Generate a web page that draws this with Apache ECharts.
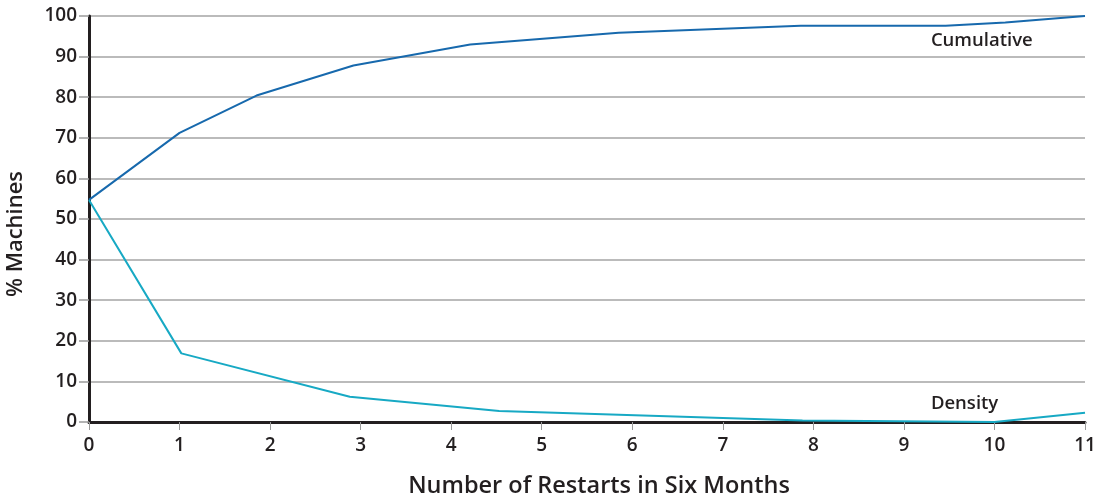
<!DOCTYPE html>
<html>
<head>
<meta charset="utf-8">
<title>Restarts</title>
<script src="https://cdn.jsdelivr.net/npm/echarts@6/dist/echarts.min.js"></script>
<style>
  html, body { margin: 0; padding: 0; background: #fff; }
  #chart { width: 1098px; height: 498px; }
</style>
</head>
<body>
<div id="chart"></div>
<script>
// values: [restarts, % machines]
var cumulative = [
  [0, 54.7], [1.0, 71.2], [1.85, 80.4], [2.92, 87.8], [4.21, 93.0],
  [5.85, 95.9], [7.86, 97.6], [9.46, 97.6], [10.12, 98.4], [11, 100]
];
var density = [
  [0, 54.7], [1.02, 16.9], [2.88, 6.2], [4.53, 2.7], [7.88, 0.4],
  [10, 0], [11, 2.3]
];
var seriesNames = ["Cumulative", "Density"];
var labelAt = [[9.86, 94.0], [9.67, 4.6]];

var font = "'Open Sans', 'Noto Sans', sans-serif";
var ink = "#231f20";
var colors = ["#1769ad", "#17a9c4"];

var chart = echarts.init(document.getElementById("chart"));

function lineSeries(i, data) {
  return {
    name: seriesNames[i],
    type: "line",
    data: data,
    symbol: "none",
    animation: false,
    lineStyle: { color: colors[i], width: 2 },
    markPoint: {
      symbol: "circle",
      symbolSize: 0,
      silent: true,
      label: {
        show: true,
        position: "inside",
        formatter: seriesNames[i],
        color: ink,
        fontFamily: font,
        fontSize: 18.5,
        fontWeight: 600
      },
      data: [{ coord: labelAt[i] }]
    }
  };
}

chart.setOption({
  backgroundColor: "#fff",
  grid: { left: 89, right: 13, top: 16, bottom: 76, outerBoundsMode: "none", containLabel: false },
  xAxis: {
    type: "value",
    min: 0,
    max: 11,
    interval: 1,
    name: "Number of Restarts in Six Months",
    nameLocation: "middle",
    nameGap: 52,
    nameTextStyle: { color: ink, fontFamily: font, fontSize: 23.5, fontWeight: 600, padding: [0, 0, 0, 24] },
    axisLine: { lineStyle: { color: ink, width: 3 } },
    axisTick: { show: true, length: 8, lineStyle: { color: "#9a9a9a", width: 1 } },
    axisLabel: { color: ink, fontFamily: font, fontSize: 19, fontWeight: 600, margin: 14 },
    splitLine: { show: false }
  },
  yAxis: {
    type: "value",
    min: 0,
    max: 100,
    interval: 10,
    name: "% Machines",
    nameLocation: "middle",
    nameGap: 62,
    nameTextStyle: { color: ink, fontFamily: font, fontSize: 22, fontWeight: 600, padding: [0, 30, 0, 0] },
    axisLine: { show: true, lineStyle: { color: ink, width: 3 } },
    axisTick: { show: true, length: 10, lineStyle: { color: "#9a9a9a", width: 1.5 } },
    axisLabel: { color: ink, fontFamily: font, fontSize: 19, fontWeight: 600, margin: 12 },
    splitLine: { show: true, lineStyle: { color: "#a5a5a5", width: 1.5 } }
  },
  series: [lineSeries(0, cumulative), lineSeries(1, density)]
});
</script>
</body>
</html>
